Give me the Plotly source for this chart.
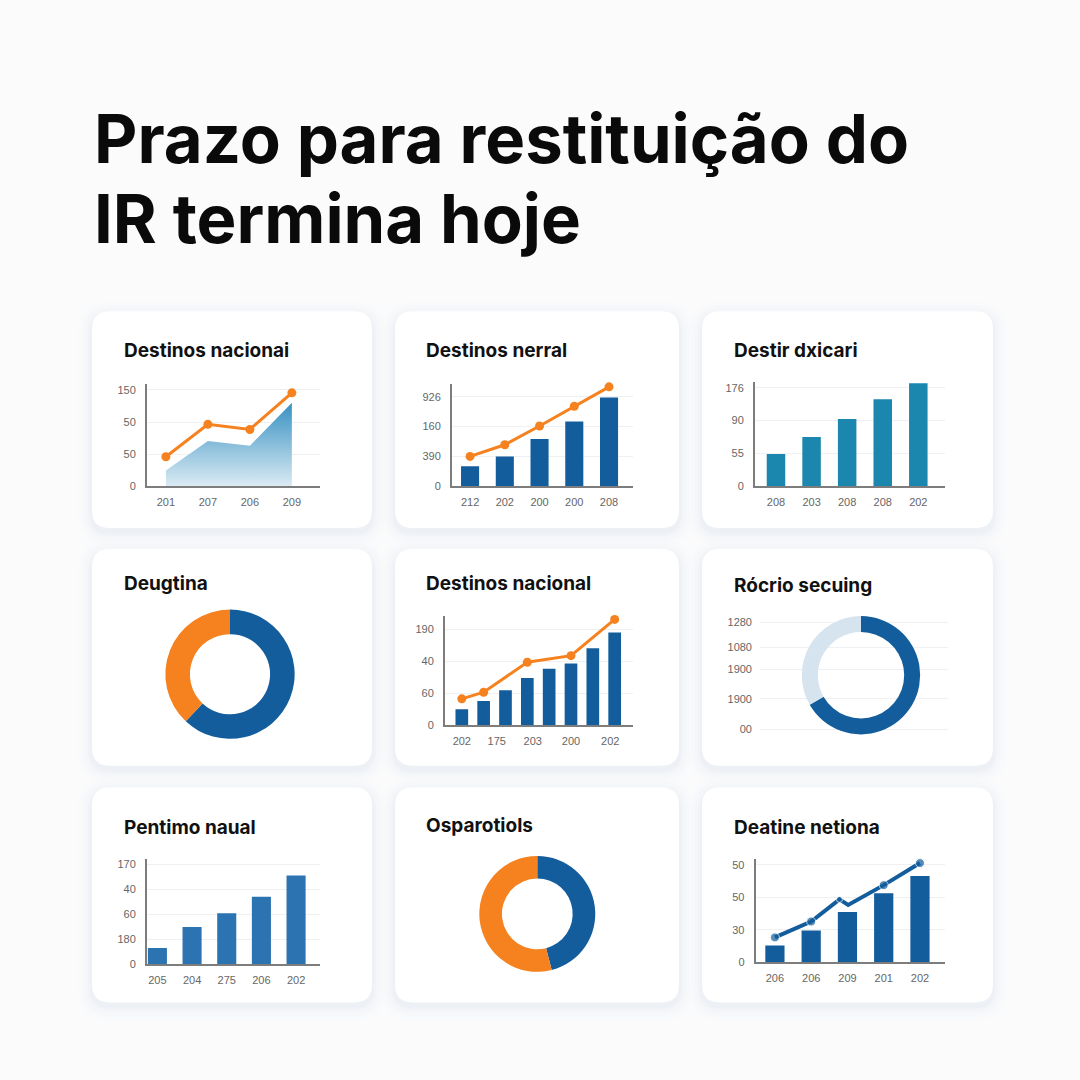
import plotly.graph_objects as go

W = H = 1080

# ---------------- data ----------------
main_title_1 = "Prazo para restituição do"
main_title_2 = "IR termina hoje"

p1_title = "Destinos nacionai"
p1_x = [0, 1, 2, 3]
p1_xlabels = ["201", "207", "206", "209"]
p1_area = [0.49, 1.41, 1.26, 2.6]
p1_line = [0.92, 1.93, 1.77, 2.91]
p1_yvals = [0, 1, 2, 3]
p1_ylabels = ["0", "50", "50", "150"]

p2_title = "Destinos nerral"
p2_x = [0, 1, 2, 3, 4]
p2_xlabels = ["212", "202", "200", "200", "208"]
p2_bars = [0.67, 1.0, 1.58, 2.17, 2.97]
p2_line = [1.0, 1.39, 2.02, 2.68, 3.33]
p2_yvals = [0, 1, 2, 3]
p2_ylabels = ["0", "390", "160", "926"]

p3_title = "Destir dxicari"
p3_x = [0, 1, 2, 3, 4]
p3_xlabels = ["208", "203", "208", "208", "202"]
p3_bars = [0.98, 1.5, 2.05, 2.65, 3.14]
p3_yvals = [0, 1, 2, 3]
p3_ylabels = ["0", "55", "90", "176"]

p4_title = "Deugtina"
p4_labels = ["A", "B"]
p4_values = [62, 38]

p5_title = "Destinos nacional"
p5_x = [0, 1, 2, 3, 4, 5, 6, 7]
p5_bars = [0.49, 0.75, 1.09, 1.48, 1.77, 1.93, 2.41, 2.91]
p5_line_x = [0, 1, 3, 5, 7]
p5_line = [0.82, 1.03, 1.97, 2.18, 3.32]
p5_xtickpos = [0, 1.6, 3.25, 5, 6.8]
p5_xlabels = ["202", "175", "203", "200", "202"]
p5_yvals = [0, 1, 2, 3]
p5_ylabels = ["0", "60", "40", "190"]

p6_title = "Rócrio secuing"
p6_labels = ["A", "B"]
p6_values = [66.7, 33.3]
p6_yvals = [0, 1.02, 2.0, 2.75, 3.58]
p6_ylabels = ["00", "1900", "1900", "1080", "1280"]

p7_title = "Pentimo naual"
p7_x = [0, 1, 2, 3, 4]
p7_xlabels = ["205", "204", "275", "206", "202"]
p7_bars = [0.64, 1.48, 2.04, 2.7, 3.56]
p7_yvals = [0, 1, 2, 3, 4]
p7_ylabels = ["0", "180", "60", "40", "170"]

p8_title = "Osparotiols"
p8_labels = ["A", "B"]
p8_values = [46, 54]

p9_title = "Deatine netiona"
p9_x = [0, 1, 2, 3, 4]
p9_xlabels = ["206", "206", "209", "201", "202"]
p9_bars = [0.51, 0.97, 1.54, 2.12, 2.65]
p9_line_x = [0, 1, 1.78, 2.02, 3, 4]
p9_line = [0.76, 1.25, 1.93, 1.76, 2.37, 3.05]
p9_yvals = [0, 1, 2, 3]
p9_ylabels = ["0", "30", "50", "50"]

# ---------------- styles ----------------
BLUE = "#135d9c"
ORANGE = "#f5821f"
TEAL = "#1b87ae"
STEEL = "#2b73b1"
LIGHT = "#d6e4ef"
AXIS = "#7d7d7d"
GRID = "#eef0f2"
TICKFONT = dict(family="Liberation Sans, Arial, sans-serif", size=11, color="#666666")
TITLEFONT = "Inter, Open Sans, sans-serif"


def px(x):
    return x / W


def py(y):
    return 1 - y / H


def rrect(x0, y0, x1, y1, r):
    X0, X1 = px(x0), px(x1)
    Y0, Y1 = py(y0), py(y1)
    rx, ry = r / W, r / H
    return (f"M {X0+rx},{Y0} L {X1-rx},{Y0} Q {X1},{Y0} {X1},{Y0-ry} "
            f"L {X1},{Y1+ry} Q {X1},{Y1} {X1-rx},{Y1} L {X0+rx},{Y1} "
            f"Q {X0},{Y1} {X0},{Y1+ry} L {X0},{Y0-ry} Q {X0},{Y0} {X0+rx},{Y0} Z")


fig = go.Figure()
layout = dict(
    width=W, height=H, autosize=False, margin=dict(l=0, r=0, t=0, b=0, pad=0),
    paper_bgcolor="#fbfbfc", plot_bgcolor="rgba(0,0,0,0)",
    showlegend=False, shapes=[], annotations=[],
)

cards = [
    (92, 313, 372, 531), (395, 313, 679, 531), (702, 313, 993, 531),
    (92, 552, 372, 770), (395, 552, 679, 770), (702, 552, 993, 770),
    (92, 792, 372, 1008), (395, 792, 679, 1008), (702, 792, 993, 1008),
]
for (x0, y0, x1, y1) in cards:
    for k, a in [(14, 0.012), (10, 0.016), (7, 0.02), (4, 0.025), (2, 0.03)]:
        layout["shapes"].append(dict(
            type="path", xref="paper", yref="paper", layer="below",
            path=rrect(x0 - k, y0 - k + 4, x1 + k, y1 + k + 4, 18 + k),
            fillcolor=f"rgba(120,145,185,{a})", line=dict(width=0)))
    layout["shapes"].append(dict(
        type="path", xref="paper", yref="paper", layer="below",
        path=rrect(x0, y0, x1, y1, 18), fillcolor="#ffffff", line=dict(width=0)))

titles = [
    (p1_title, 122, 352), (p2_title, 424, 352), (p3_title, 732, 352),
    (p4_title, 122, 587), (p5_title, 424, 587), (p6_title, 732, 589),
    (p7_title, 122, 832), (p8_title, 424, 830), (p9_title, 732, 832),
]
for t, x, y in titles:
    layout["annotations"].append(dict(
        text=f"<b>{t}</b>", x=px(x), y=py(y), xref="paper", yref="paper",
        xanchor="left", yanchor="middle", showarrow=False,
        font=dict(family=TITLEFONT, size=19, color="#111111")))

for t, ytop in [(main_title_1, 97), (main_title_2, 177)]:
    layout["annotations"].append(dict(
        text=f"<b>{t}</b>", x=px(92), y=py(ytop), xref="paper", yref="paper",
        xanchor="left", yanchor="top", align="left", showarrow=False,
        font=dict(family=TITLEFONT, size=67, color="#0a0a0a")))


def axes(n, box, xr, yr, xtv, xtt, ytv, ytt, lines=True):
    x0, y0, x1, y1 = box
    xs = "xaxis" if n == 1 else f"xaxis{n}"
    ys = "yaxis" if n == 1 else f"yaxis{n}"
    xa = "x" if n == 1 else f"x{n}"
    ya = "y" if n == 1 else f"y{n}"
    layout[xs] = dict(
        domain=[px(x0), px(x1)], anchor=ya, range=xr, tickmode="array",
        tickvals=xtv, ticktext=xtt, showgrid=False, zeroline=False,
        showline=lines, linecolor=AXIS, linewidth=2, ticks="",
        showticklabels=lines, tickfont=TICKFONT, ticklabelstandoff=5, fixedrange=True)
    layout[ys] = dict(
        domain=[py(y1), py(y0)], anchor=xa, range=yr, tickmode="array",
        tickvals=ytv, ticktext=ytt, showgrid=True, gridcolor=GRID, gridwidth=1,
        zeroline=False, showline=lines, linecolor=AXIS, linewidth=2, ticks="",
        tickfont=TICKFONT, ticklabelstandoff=7, fixedrange=True)
    return xa, ya


# Panel 1
xa, ya = axes(1, (147, 386, 320, 489), [-0.45, 3.67], [0, 3.19], p1_x, p1_xlabels, p1_yvals, p1_ylabels)
fig.add_trace(go.Scatter(
    x=p1_x, y=p1_area, xaxis=xa, yaxis=ya, mode="lines", line=dict(width=0),
    fill="tozeroy",
    fillgradient=dict(type="vertical", start=0, stop=2.6,
                      colorscale=[[0, "#dcebf4"], [1, "#3791c2"]]),
    hoverinfo="skip"))
fig.add_trace(go.Scatter(
    x=p1_x, y=p1_line, xaxis=xa, yaxis=ya, mode="lines+markers",
    line=dict(color=ORANGE, width=3), marker=dict(size=9, color=ORANGE), cliponaxis=False))

# Panel 2
xa, ya = axes(2, (452, 386, 633, 489), [-0.52, 4.69], [0, 3.43], p2_x, p2_xlabels, p2_yvals, p2_ylabels)
fig.add_trace(go.Bar(x=p2_x, y=p2_bars, xaxis=xa, yaxis=ya, width=0.52,
                     marker=dict(color=BLUE, line=dict(width=0))))
fig.add_trace(go.Scatter(
    x=p2_x, y=p2_line, xaxis=xa, yaxis=ya, mode="lines+markers",
    line=dict(color=ORANGE, width=3), marker=dict(size=9, color=ORANGE), cliponaxis=False))

# Panel 3
xa, ya = axes(3, (755, 384, 945, 489), [-0.59, 4.75], [0, 3.18], p3_x, p3_xlabels, p3_yvals, p3_ylabels)
fig.add_trace(go.Bar(x=p3_x, y=p3_bars, xaxis=xa, yaxis=ya, width=0.52,
                     marker=dict(color=TEAL, line=dict(width=0))))

# Panel 4 donut
fig.add_trace(go.Pie(
    labels=p4_labels, values=p4_values, hole=0.62, sort=False, direction="clockwise",
    rotation=0, textinfo="none", hoverinfo="skip",
    marker=dict(colors=[BLUE, ORANGE], line=dict(width=0)),
    domain=dict(x=[px(165), px(295)], y=[py(743), py(613)])))

# Panel 5
xa, ya = axes(4, (445, 619, 633, 729), [-0.77, 7.84], [0, 3.44], p5_xtickpos, p5_xlabels, p5_yvals, p5_ylabels)
fig.add_trace(go.Bar(x=p5_x, y=p5_bars, xaxis=xa, yaxis=ya, width=0.58,
                     marker=dict(color=BLUE, line=dict(width=0))))
fig.add_trace(go.Scatter(
    x=p5_line_x, y=p5_line, xaxis=xa, yaxis=ya, mode="lines+markers",
    line=dict(color=ORANGE, width=3), marker=dict(size=9, color=ORANGE), cliponaxis=False))

# Panel 6 donut with grid
xa, ya = axes(5, (760, 620, 948, 735), [0, 1], [-0.06, 3.78], [], [], p6_yvals, p6_ylabels, lines=False)
layout["yaxis5"]["showticklabels"] = True
fig.add_trace(go.Scatter(x=[0.5], y=[1], xaxis=xa, yaxis=ya, mode="markers",
                         marker=dict(size=1, color="rgba(0,0,0,0)"), hoverinfo="skip"))
fig.add_trace(go.Pie(
    labels=p6_labels, values=p6_values, hole=0.73, sort=False, direction="clockwise",
    rotation=0, textinfo="none", hoverinfo="skip",
    marker=dict(colors=[BLUE, LIGHT], line=dict(width=0)),
    domain=dict(x=[px(801.5), px(920.5)], y=[py(738.5), py(619.5)])))

# Panel 7
xa, ya = axes(6, (147, 863.3, 320, 969.3), [-0.3, 4.69], [0, 4.24], p7_x, p7_xlabels, p7_yvals, p7_ylabels)
fig.add_trace(go.Bar(x=p7_x, y=p7_bars, xaxis=xa, yaxis=ya, width=0.55,
                     marker=dict(color=STEEL, line=dict(width=0))))

# Panel 8 donut
fig.add_trace(go.Pie(
    labels=p8_labels, values=p8_values, hole=0.61, sort=False, direction="clockwise",
    rotation=0, textinfo="none", hoverinfo="skip",
    marker=dict(colors=[BLUE, ORANGE], line=dict(width=0)),
    domain=dict(x=[px(479), px(595.6)], y=[py(977.3), py(860.7)])))

# Panel 9
xa, ya = axes(7, (755.7, 863.3, 945, 967.5), [-0.53, 4.69], [0, 3.19], p9_x, p9_xlabels, p9_yvals, p9_ylabels)
fig.add_trace(go.Bar(x=p9_x, y=p9_bars, xaxis=xa, yaxis=ya, width=0.53,
                     marker=dict(color=BLUE, line=dict(width=0))))
fig.add_trace(go.Scatter(
    x=p9_line_x, y=p9_line, xaxis=xa, yaxis=ya, mode="lines+markers",
    line=dict(color=BLUE, width=4), marker=dict(size=[9, 9, 6, 0, 9, 9], color=BLUE),
    cliponaxis=False))

fig.update_layout(**layout)
fig.update_traces(hoverinfo="skip", selector=dict(type="bar"))
fig.write_html("out.html", config={"displayModeBar": False, "responsive": False},
               post_script="document.body.style.margin='0';document.body.style.overflow='hidden';")
